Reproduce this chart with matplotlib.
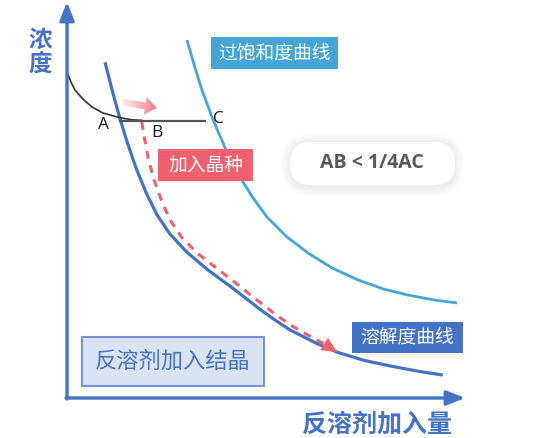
import numpy as np
import matplotlib
matplotlib.use('Agg')
import matplotlib.pyplot as plt
from matplotlib.patches import Rectangle, FancyBboxPatch, Polygon

# curve data (x: anti-solvent added, y: concentration), arbitrary units
sol_x = [0.96, 1.12, 1.29, 1.50, 1.75, 2.00, 2.27, 2.60, 3.03, 3.55, 4.19,
         4.90, 5.25, 5.63, 6.30, 6.84, 7.50, 8.21, 8.90, 9.49]
sol_y = [8.48, 7.85, 7.22, 6.52, 5.79, 5.18, 4.63, 4.14, 3.68, 3.24, 2.77,
         2.22, 1.97, 1.72, 1.38, 1.15, 0.95, 0.80, 0.67, 0.58]

sup_x = [3.03, 3.20, 3.40, 3.69, 4.00, 4.35, 4.70, 5.05, 5.55, 6.09, 6.70,
         7.35, 8.00, 8.61, 9.25, 9.85]
sup_y = [9.04, 8.45, 7.80, 7.02, 6.30, 5.60, 5.05, 4.57, 4.07, 3.66, 3.28,
         2.98, 2.75, 2.60, 2.48, 2.40]

blk_x = [0.0, 0.1, 0.2, 0.4, 0.63, 0.9, 1.29, 1.6, 1.89]
blk_y = [8.23, 7.98, 7.78, 7.55, 7.35, 7.20, 7.09, 7.03, 7.01]

ac_x = [1.33, 3.48]
ac_y = [7.0, 7.0]

red_x = [1.89, 1.95, 2.05, 2.2, 2.4, 2.6, 2.9, 3.3, 3.75, 4.19, 4.7, 5.25,
         5.7, 6.1, 6.5, 6.82]
red_y = [6.97, 6.6, 6.05, 5.5, 4.95, 4.5, 4.05, 3.65, 3.3, 2.96, 2.55, 2.12,
         1.81, 1.58, 1.36, 1.16]

DARK = '#4472C4'
LIGHT = '#45A5D8'
RED = '#F0606E'
CJK = ['Noto Sans CJK SC', 'DejaVu Sans']

# pixel -> data helpers (origin of the axes at pixel 67, 398)
S = 39.6
OX, OY = 67, 398
def px(x):
    return (x - OX) / S
def py(y):
    return (OY - y) / S

fig = plt.figure(figsize=(5.5, 4.38), dpi=100)
ax = fig.add_axes([0, 0, 1, 1])
ax.set_xlim(px(0), px(550))
ax.set_ylim(py(438), py(0))
ax.axis('off')

# axes with arrows
arrow_kw = dict(arrowstyle='-|>,head_length=0.55,head_width=0.22',
                color=DARK, lw=2.4, mutation_scale=20, shrinkA=0, shrinkB=0)
ax.annotate('', xy=(0, py(2)), xytext=(0, py(399)), arrowprops=arrow_kw)
ax.annotate('', xy=(px(465), 0), xytext=(px(66), 0), arrowprops=arrow_kw)

# curves
ax.plot(sup_x, sup_y, color=LIGHT, lw=2.0, solid_capstyle='butt')
ax.plot(sol_x, sol_y, color=DARK, lw=2.3, solid_capstyle='butt')
ax.plot(blk_x, blk_y, color='#333333', lw=1.2)
ax.plot(ac_x, ac_y, color='#555555', lw=1.6)
ax.plot(red_x[:-1], red_y[:-1], color=RED, lw=2.2, dashes=(2.6, 2.2))
ax.annotate('', xy=(red_x[-1], red_y[-1]), xytext=(red_x[-2], red_y[-2]),
            arrowprops=dict(arrowstyle='-|>,head_length=0.55,head_width=0.26',
                            color=RED, lw=0, mutation_scale=20,
                            shrinkA=0, shrinkB=0))

# gradient arrow near B
p0 = np.array([px(122), py(102)])
p1 = np.array([px(157), py(108)])
d = (p1 - p0) / np.linalg.norm(p1 - p0)
n = np.array([-d[1], d[0]])
hl, bw, hw = 12 / S, 3.5 / S, 9 / S
base = p1 - d * hl
pts = [p0 + n * bw, base + n * bw, base + n * hw, p1,
       base - n * hw, base - n * bw, p0 - n * bw]
poly = Polygon(pts, closed=True, fc='none', ec='none')
ax.add_patch(poly)
grad = np.zeros((2, 100, 4))
rgb = matplotlib.colors.to_rgb(RED)
grad[..., 0], grad[..., 1], grad[..., 2] = rgb
grad[..., 3] = np.linspace(0.05, 0.85, 100)
im = ax.imshow(grad, extent=[px(120), px(158), py(118), py(95)],
               aspect='auto', zorder=3, interpolation='bilinear')
im.set_clip_path(poly)

# point labels
lbl = dict(fontsize=12.5, family=['Open Sans', 'DejaVu Sans'], color='#1a1a1a',
           ha='center', va='center')
ax.text(px(104), py(125), 'A', **lbl)
ax.text(px(157), py(133), 'B', **lbl)
ax.text(px(218), py(119), 'C', **lbl)

def box(x0, y0, x1, y1, fc, ec, text, tc, size, lw=0):
    ax.add_patch(Rectangle((px(x0), py(y1)), px(x1) - px(x0), py(y0) - py(y1),
                           fc=fc, ec=ec, lw=lw, zorder=4))
    ax.text((px(x0) + px(x1)) / 2, (py(y0) + py(y1)) / 2, text, color=tc,
            fontsize=size, family=CJK, ha='center', va='center', zorder=5)

box(211, 37, 338, 69, LIGHT, 'none', '过饱和度曲线', 'white', 13.5)
box(158, 149, 253, 181, RED, 'none', '加入晶种', 'white', 13.5)
box(352, 322, 463, 353, DARK, 'none', '溶解度曲线', 'white', 13.5)
box(82, 337, 264, 386, '#DAE3F3', '#7496D6', '反溶剂加入结晶', DARK, 16, lw=1.5)

# pill with soft shadow
for k in range(1, 10):
    ax.add_patch(FancyBboxPatch((px(290 - k), py(187 + k)),
                                px(455 + k) - px(290 - k),
                                py(141 - k + 1) - py(187 + k),
                                boxstyle='round,pad=0,rounding_size=%f' % ((21 + k) / S),
                                fc='black', ec='none', alpha=0.009, zorder=4))
ax.add_patch(FancyBboxPatch((px(290), py(185)), px(455) - px(290),
                            py(142) - py(185),
                            boxstyle='round,pad=0,rounding_size=%f' % (21 / S),
                            fc='white', ec='none', zorder=4))
ax.text(px(372), py(163), 'AB < 1/4AC', fontsize=14, fontweight='bold',
        family=['Open Sans', 'DejaVu Sans'], color='#595959',
        ha='center', va='center', zorder=5)

# axis titles
ax.text(px(377), py(425), '反溶剂加入量', fontsize=18, fontweight='bold',
        family=CJK, color=DARK, ha='center', va='center')
ax.text(px(40), py(52), '浓\n度', fontsize=17, fontweight='bold',
        family=CJK, color=DARK, ha='center', va='center', linespacing=1.0)

plt.savefig('out.png', dpi=100)
